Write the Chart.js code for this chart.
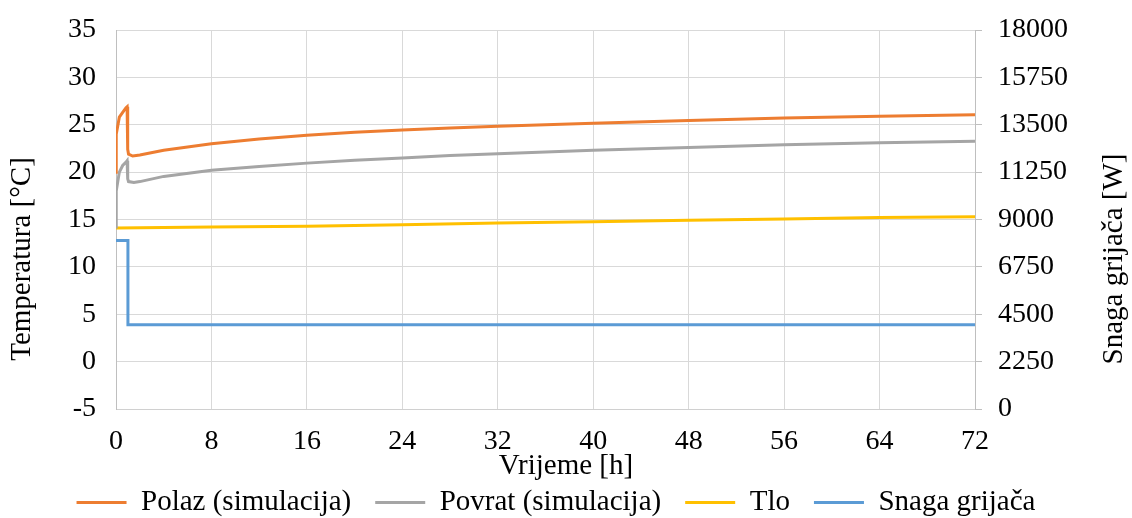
<!DOCTYPE html>
<html>
<head>
<meta charset="utf-8">
<script src="https://cdn.jsdelivr.net/npm/chart.js@4/dist/chart.umd.min.js"></script>
<style>
  html, body { margin: 0; padding: 0; background: #fff; overflow: hidden; }
  #wrap { width: 1132px; height: 527px; }
</style>
</head>
<body>
<div id="wrap"><canvas id="chart"></canvas></div>
<script>
// time [h] and values
const polazT = [0, 0.02, 0.28, 0.56, 0.84, 0.93, 0.98, 1.05, 1.4, 2, 4, 8, 12, 16, 20, 24, 28, 32, 40, 48, 56, 64, 72];
const polaz = [20.0, 24.0, 25.8, 26.3, 26.8, 26.9, 22.4, 21.9, 21.7, 21.8, 22.3, 23.0, 23.5, 23.9, 24.2, 24.45, 24.65, 24.85, 25.15, 25.45, 25.7, 25.9, 26.05];

const povratT = [0, 0.02, 0.28, 0.56, 0.84, 0.93, 0.98, 1.05, 1.5, 2, 4, 8, 12, 16, 20, 24, 28, 32, 40, 48, 56, 64, 72];
const povrat = [14.2, 18.0, 20.0, 20.7, 21.05, 21.2, 19.3, 19.0, 18.9, 19.0, 19.55, 20.2, 20.6, 20.95, 21.25, 21.5, 21.75, 21.95, 22.3, 22.6, 22.9, 23.1, 23.25];

const tloT = [0, 8, 16, 24, 32, 40, 48, 56, 64, 72];
const tlo = [14.1, 14.2, 14.3, 14.45, 14.62, 14.76, 14.93, 15.06, 15.2, 15.3];

const snagaT = [0, 1, 1, 72];
const snaga = [8000, 8000, 4000, 4000];

const seriesNames = ['Polaz (simulacija)', 'Povrat (simulacija)', 'Tlo', 'Snaga grijača'];
const seriesColors = ['#ED7D31', '#A5A5A5', '#FFC000', '#5B9BD5'];

const xTitle = 'Vrijeme [h]';
const yTitle = 'Temperatura [°C]';
const y1Title = 'Snaga grijača [W]';

const fontFamily = '"Liberation Serif", "Times New Roman", serif';
const tickFont = { family: fontFamily, size: 28 };
const titleFont = { family: fontFamily, size: 29 };

function toPoints(ts, vs) {
  return ts.map((t, i) => ({ x: t, y: vs[i] }));
}

const datasets = [
  { data: toPoints(polazT, polaz), yAxisID: 'y' },
  { data: toPoints(povratT, povrat), yAxisID: 'y' },
  { data: toPoints(tloT, tlo), yAxisID: 'y' },
  { data: toPoints(snagaT, snaga), yAxisID: 'y1' },
].map((ds, i) => ({
  ...ds,
  label: seriesNames[i],
  borderColor: seriesColors[i],
  backgroundColor: seriesColors[i],
  borderWidth: 3,
  pointRadius: 0,
  tension: 0,
  fill: false,
}));

// Excel-style axis titles: both vertical titles read bottom-to-top and sit
// at the middle of the whole chart, the x title sits between ticks and legend
const axisTitles = {
  id: 'axisTitles',
  afterDraw(chart) {
    const { ctx } = chart;
    const midY = 259;
    ctx.save();
    ctx.fillStyle = '#000';
    ctx.font = `${titleFont.size}px ${fontFamily}`;
    ctx.textAlign = 'center';
    ctx.textBaseline = 'middle';

    ctx.fillText(xTitle, 566, 466);

    ctx.save();
    ctx.translate(22, midY);
    ctx.rotate(-Math.PI / 2);
    ctx.fillText(yTitle, 0, 0);
    ctx.restore();

    ctx.save();
    ctx.translate(1114, midY);
    ctx.rotate(-Math.PI / 2);
    ctx.fillText(y1Title, 0, 0);
    ctx.restore();

    ctx.restore();
  },
};

const noScalePadding = (s) => {
  s.paddingTop = 0;
  s.paddingBottom = 0;
};

const ctx = document.getElementById('chart').getContext('2d');
new Chart(ctx, {
  type: 'line',
  data: { datasets },
  plugins: [axisTitles],
  options: {
    responsive: true,
    maintainAspectRatio: false,
    animation: false,
    layout: { padding: { top: 30, left: 0, right: 20, bottom: 0 } },
    plugins: {
      legend: {
        position: 'bottom',
        labels: {
          font: titleFont,
          color: '#000',
          boxWidth: 50,
          boxHeight: 3,
          padding: 24,
          generateLabels: (chart) => Chart.defaults.plugins.legend.labels.generateLabels(chart)
            .map((item) => ({ ...item, lineWidth: 0 })),
        },
      },
      tooltip: { enabled: false },
    },
    scales: {
      x: {
        type: 'linear',
        min: 0,
        max: 72,
        ticks: {
          stepSize: 8,
          font: tickFont,
          color: '#000',
          padding: 16,
          maxRotation: 0,
        },
        grid: { color: '#d9d9d9', lineWidth: 1, drawTicks: false },
        border: { color: '#d0d0d0' },
        afterFit: (s) => {
          s.height = 55;
          s.paddingLeft = 0;
          s.paddingRight = 0;
        },
      },
      y: {
        position: 'left',
        min: -5,
        max: 35,
        ticks: {
          stepSize: 5,
          font: tickFont,
          color: '#000',
          padding: 20,
        },
        grid: { color: '#d9d9d9', lineWidth: 1, drawTicks: false },
        border: { color: '#bfbfbf' },
        afterFit: (s) => {
          s.width = 116;
          noScalePadding(s);
        },
      },
      y1: {
        position: 'right',
        min: 0,
        max: 18000,
        ticks: {
          stepSize: 2250,
          font: tickFont,
          color: '#000',
          padding: 16,
          callback: (v) => String(v),
        },
        grid: { drawOnChartArea: false, drawTicks: true, tickLength: 7, color: '#bfbfbf' },
        border: { color: '#bfbfbf' },
        afterFit: (s) => {
          s.width = 137;
          noScalePadding(s);
        },
      },
    },
  },
});
</script>
</body>
</html>
